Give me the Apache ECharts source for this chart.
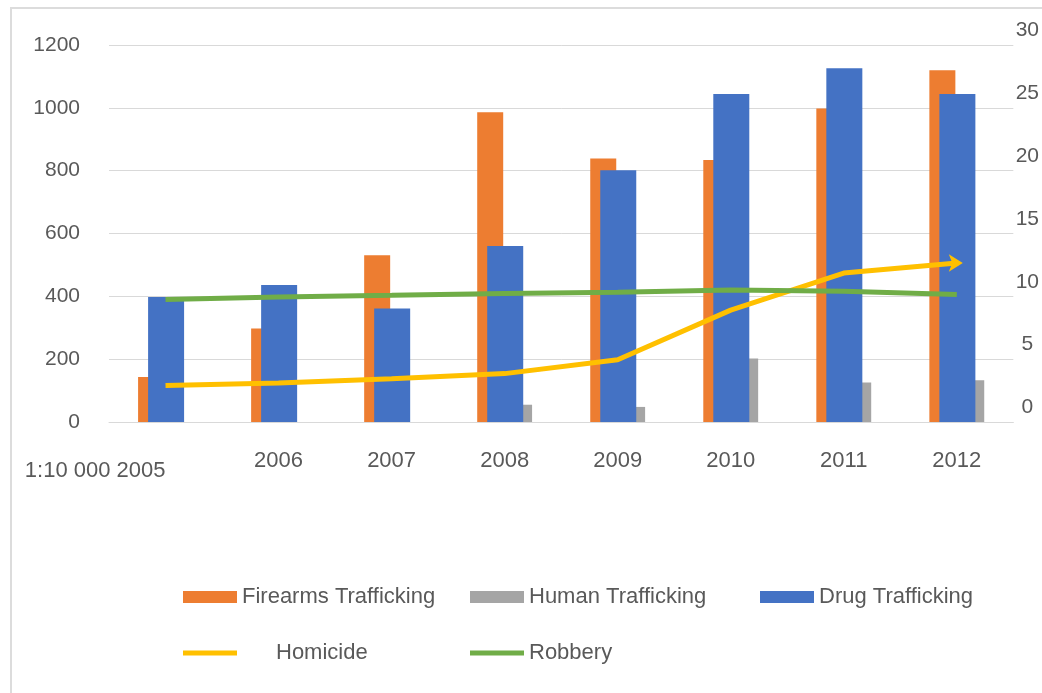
<!DOCTYPE html>
<html>
<head>
<meta charset="utf-8">
<script src="https://cdn.jsdelivr.net/npm/echarts@6/dist/echarts.min.js"></script>
<style>
html,body{margin:0;padding:0;background:#fff;}
#chart{width:1042px;height:693px;position:relative;}
#frame{position:absolute;left:10px;top:7px;width:1100px;height:800px;border:2px solid #dcdcdc;pointer-events:none;}
</style>
</head>
<body>
<div id="chart"></div>
<div id="frame"></div>
<script>
const categories = ['1:10 000 2005', '2006', '2007', '2008', '2009', '2010', '2011', '2012'];
const firearms = [143, 298, 531, 986, 839, 834, 998, 1120];
const human = [0, 0, 0, 55, 48, 202, 126, 133];
const drug = [398, 436, 361, 560, 801, 1044, 1126, 1044];
const homicide = [2.9, 3.1, 3.45, 3.85, 4.95, 8.9, 11.85, 12.65];
const robbery = [9.75, 9.95, 10.08, 10.22, 10.33, 10.5, 10.4, 10.15];
const leftTicks = [0, 200, 400, 600, 800, 1000, 1200];
const rightTicks = [0, 5, 10, 15, 20, 25, 30];

const FONT = 'Liberation Sans';
const TXT = '#595959';
const chart = echarts.init(document.getElementById('chart'), null, {renderer: 'canvas'});

const xData = categories.map((c, i) => i === 0
  ? {value: c, textStyle: {align: 'right', padding: [10, 0, 0, 0]}}
  : c);

const homicideData = homicide.map((v, i) => i === homicide.length - 1
  ? {value: v, symbol: 'arrow', symbolSize: [13, 14], symbolRotate: -90, symbolOffset: [6, 0]}
  : v);

function legendAt(name, left, top, extra) {
  return Object.assign({
    data: [name], left: left, top: top, padding: 0, itemGap: 0,
    itemWidth: 54, itemHeight: 12, icon: 'rect',
    textStyle: {fontFamily: FONT, fontSize: 22, color: TXT},
    selectedMode: false
  }, extra || {});
}

chart.setOption({
  animation: false,
  backgroundColor: '#fff',
  textStyle: {fontFamily: FONT},
  grid: {left: 109, right: 28, top: 45, bottom: 271, containLabel: false},
  legend: [
    legendAt('Firearms Trafficking', 183, 586),
    legendAt('Human Trafficking', 470, 586),
    legendAt('Drug Trafficking', 760, 586),
    legendAt('Homicide', 183, 642, {itemHeight: 5, textStyle: {fontFamily: FONT, fontSize: 22, color: TXT, padding: [0, 0, 0, 34]}}),
    legendAt('Robbery', 470, 642, {itemHeight: 5})
  ],
  xAxis: {
    type: 'category',
    data: xData,
    axisTick: {show: false},
    axisLine: {lineStyle: {color: '#d9d9d9', width: 1}},
    axisLabel: {fontFamily: FONT, fontSize: 22, color: TXT, margin: 28, interval: 0}
  },
  yAxis: [
    {
      type: 'value', min: leftTicks[0], max: leftTicks[leftTicks.length - 1], interval: leftTicks[1] - leftTicks[0],
      axisLine: {show: false}, axisTick: {show: false},
      splitLine: {lineStyle: {color: '#d9d9d9', width: 1}},
      axisLabel: {fontFamily: FONT, fontSize: 21, color: TXT, margin: 29, formatter: v => String(v)}
    },
    {
      type: 'value', min: rightTicks[0], max: rightTicks[rightTicks.length - 1], interval: rightTicks[1] - rightTicks[0],
      position: 'right',
      axisLine: {show: false}, axisTick: {show: false},
      splitLine: {show: false},
      axisLabel: {fontFamily: FONT, fontSize: 21, color: TXT, margin: 14, align: 'center', verticalAlign: 'bottom', padding: [0, 0, 4, 0], formatter: v => String(v)}
    }
  ],
  series: [
    {name: 'Firearms Trafficking', type: 'bar', data: firearms, barWidth: 26, barGap: '-61.5%', z: 1,
     itemStyle: {color: '#ED7D31'}},
    {name: 'Drug Trafficking', type: 'bar', data: drug, barWidth: 36, barGap: '-61.5%', z: 3,
     itemStyle: {color: '#4472C4'}},
    {name: 'Human Trafficking', type: 'bar', data: human, barWidth: 31, barGap: '-61.5%', z: 1,
     itemStyle: {color: '#A5A5A5'}},
    {name: 'Homicide', type: 'line', yAxisIndex: 1, data: homicideData, symbol: 'none', z: 5,
     lineStyle: {color: '#FFC000', width: 5}, itemStyle: {color: '#FFC000'}},
    {name: 'Robbery', type: 'line', yAxisIndex: 1, data: robbery, symbol: 'none', z: 5,
     lineStyle: {color: '#70AD47', width: 5}, itemStyle: {color: '#70AD47'}}
  ]
});
</script>
</body>
</html>
